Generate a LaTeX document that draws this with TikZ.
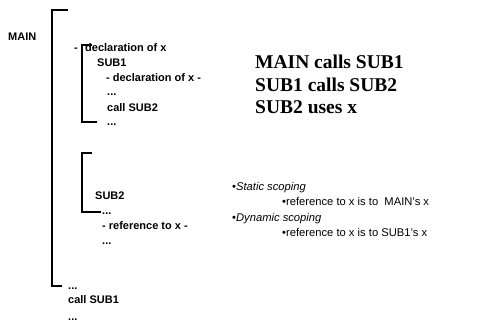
\documentclass[tikz,border=0pt]{standalone}
\usepackage{fontspec}
\setmainfont{Liberation Sans}
\newfontfamily\serifb{Liberation Serif}
\begin{document}
\begin{tikzpicture}[x=1pt,y=-1pt,
  code/.style={anchor=base west,inner sep=0pt,font=\fontsize{11}{13}\selectfont\bfseries},
  claim/.style={anchor=base west,inner sep=0pt,font=\fontsize{19.5}{22}\serifb\bfseries},
  note/.style={anchor=base west,inner sep=0pt,font=\fontsize{11.2}{13}\selectfont},
  brk/.style={line width=1.3pt}]
\useasboundingbox (0,0) rectangle (480,326);
% left column
\node[code] (main) at (8,41) {MAIN};
\node[code] (dash) at (74,52) {-};
\node[code] (d1) at (85,52) {declaration of x};
\node[code] (sub1) at (97,67) {SUB1};
\node[code] (d2) at (106,82) {- declaration of x -};
\node[code] (e1) at (107,96) {...};
\node[code] (c2) at (107,112) {call SUB2};
\node[code] (e2) at (107,126) {...};
\node[code] (sub2) at (95,200) {SUB2};
\node[code] (e3) at (102,215) {...};
\node[code] (r1) at (102,230) {- reference to x -};
\node[code] (e4) at (102,245) {...};
\node[code] (e5) at (68,290) {...};
\node[code] (c1) at (68,304) {call SUB1};
\node[code] (e6) at (68,320) {...};
% brackets
\coordinate (bA) at (68,10);
\coordinate (bB) at (52,286);
\draw[brk] (bA) -- (52,10) -- (bB) -- (62,286);
\coordinate (b1a) at (92,45);
\coordinate (b1b) at (97,122);
\draw[brk] (b1a) -- (82,45) -- (82,122) -- (b1b);
\coordinate (b2a) at (92,153);
\coordinate (b2b) at (101,212);
\draw[brk] (b2a) -- (82,153) -- (82,212) -- (b2b);
% right text
\node[claim] (t1) at (255,69) {MAIN calls SUB1};
\node[claim] (t2) at (255,92) {SUB1 calls SUB2};
\node[claim] (t3) at (255,114) {SUB2 uses x};
\node[note] (s1) at (232,191) {\textbullet\textit{Static scoping}};
\node[note] (s2) at (282,206) {\textbullet reference to x is to\ \ MAIN's x};
\node[note] (s3) at (232,222) {\textbullet\textit{Dynamic scoping}};
\node[note] (s4) at (282,237) {\textbullet reference to x is to SUB1's x};
\end{tikzpicture}
\end{document}
